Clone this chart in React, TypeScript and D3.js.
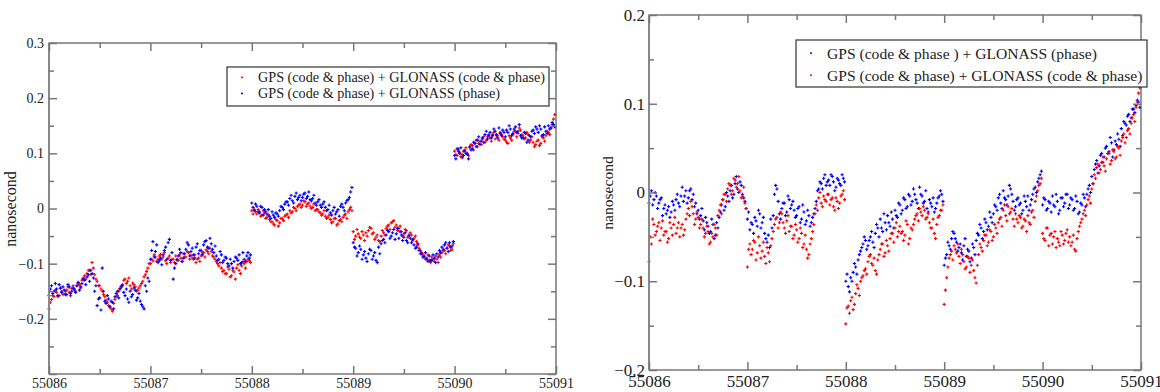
import React from "react";
import * as d3 from "d3";

const width = 1160;
const height = 392;
const startMjd = 55086;
const xTicks = [55086, 55087, 55088, 55089, 55090, 55091];
const xMinor = [55086.5, 55087.5, 55088.5, 55089.5, 55090.5];

// clock offsets in 0.001 ns, one row per day (MJD 55086..55090), samples evenly spread over the day
// "A" sets are the epochs on the grid, "B" sets the epochs half a step later
const leftRedA = [
  [-182, -165, -160, -152, -158, -150, -155, -148, -152, -145, -148, -140, -138, -130, -122, -118, -112, -98, -120, -132, -140, -150, -160, -170, -178, -186, -165, -158, -145, -138, -128, -132, -140, -135, -142, -148, -140, -132, -120, -108],
  [-100, -95, -88, -92, -83, -88, -95, -90, -98, -92, -86, -94, -90, -82, -88, -80, -85, -92, -98, -90, -86, -80, -75, -82, -78, -88, -96, -104, -108, -112, -118, -110, -122, -115, -108, -112, -104, -100, -96, -94],
  [-4, -2, -10, -6, -12, -8, -16, -20, -24, -30, -22, -26, -18, -14, -10, -4, -6, 0, 4, 8, 6, 12, 8, 4, 2, -4, -2, -8, -10, -14, -16, -20, -24, -18, -28, -20, -16, -10, -6, 2],
  [-42, -50, -46, -54, -48, -44, -40, -36, -44, -52, -58, -50, -44, -36, -30, -26, -22, -30, -36, -42, -46, -40, -50, -48, -54, -60, -72, -80, -86, -90, -94, -88, -96, -92, -84, -80, -76, -72, -68, -74],
  [104, 96, 102, 98, 106, 100, 110, 114, 118, 112, 122, 126, 120, 130, 128, 134, 126, 132, 138, 130, 124, 118, 128, 134, 140, 136, 142, 132, 128, 134, 124, 120, 116, 124, 118, 128, 132, 138, 146, 162],
];
const leftRedB = [
  [-170, -158, -148, -160, -145, -156, -150, -142, -158, -140, -150, -136, -144, -126, -128, -112, -120, -108, -128, -140, -146, -156, -166, -176, -182, -172, -160, -150, -140, -130, -136, -126, -146, -138, -150, -144, -136, -124, -114, -100],
  [-92, -84, -96, -86, -92, -80, -100, -86, -92, -98, -94, -84, -96, -88, -78, -92, -90, -84, -92, -96, -80, -88, -78, -72, -86, -92, -100, -98, -114, -118, -106, -124, -112, -128, -102, -118, -96, -108, -92, -98],
  [-10, -6, -2, -14, -4, -18, -12, -24, -28, -20, -32, -18, -22, -12, -16, -8, 2, -4, 6, 2, 14, 4, 10, 0, 8, -2, -6, -12, -4, -18, -12, -26, -18, -30, -22, -24, -12, -18, -2, -4],
  [-56, -38, -52, -42, -58, -50, -34, -46, -56, -48, -60, -40, -48, -32, -38, -24, -34, -40, -32, -50, -38, -52, -44, -58, -50, -66, -76, -84, -92, -84, -98, -92, -86, -98, -88, -76, -82, -66, -76, -64],
  [98, 108, 94, 104, 110, 96, 116, 106, 124, 118, 116, 130, 124, 134, 122, 138, 132, 124, 134, 126, 120, 132, 124, 140, 130, 146, 134, 126, 138, 120, 130, 112, 122, 114, 130, 122, 140, 134, 152, 170],
];
const leftBlueA = [
  [-158, -140, -150, -146, -138, -152, -148, -156, -142, -150, -146, -140, -148, -136, -130, -124, -132, -118, -150, -176, -162, -108, -168, -158, -178, -170, -160, -150, -146, -140, -158, -164, -150, -156, -148, -162, -168, -178, -140, -126],
  [-92, -60, -78, -98, -90, -84, -70, -62, -94, -128, -100, -86, -80, -90, -74, -66, -78, -84, -70, -82, -76, -66, -58, -72, -64, -80, -86, -92, -84, -94, -90, -104, -100, -96, -90, -84, -98, -92, -86, -90],
  [10, -4, 4, -8, 2, -2, -10, -14, -6, -16, -10, -4, 2, 8, 12, 18, 14, 22, 16, 24, 20, 28, 22, 16, 18, 10, 12, 6, 8, 2, -2, -8, -4, -10, -2, 4, 2, 10, 16, 30],
  [-62, -72, -80, -74, -84, -90, -82, -76, -86, -94, -70, -64, -56, -48, -42, -50, -38, -46, -54, -48, -52, -58, -48, -62, -66, -70, -76, -82, -88, -92, -86, -94, -90, -82, -76, -70, -66, -72, -62, -68],
  [96, 108, 100, 92, 104, 98, 112, 108, 118, 124, 116, 128, 134, 126, 138, 132, 140, 128, 136, 142, 130, 138, 144, 136, 148, 140, 132, 128, 136, 124, 130, 142, 148, 138, 144, 134, 140, 150, 146, 152],
];
const leftBlueB = [
  [-146, -154, -136, -158, -144, -142, -156, -138, -154, -144, -152, -134, -142, -128, -138, -120, -112, -126, -140, -164, -184, -150, -172, -164, -168, -182, -154, -162, -142, -152, -146, -170, -160, -144, -166, -154, -174, -182, -150, -132],
  [-76, -88, -66, -94, -102, -76, -92, -56, -80, -108, -92, -74, -96, -82, -62, -86, -72, -90, -64, -76, -84, -60, -70, -54, -74, -68, -94, -78, -98, -88, -100, -92, -108, -88, -94, -100, -80, -96, -80, -84],
  [2, 8, -6, 4, -12, -6, -2, -18, -12, -8, -14, 4, -2, 12, 6, 24, 10, 28, 20, 14, 26, 18, 30, 14, 24, 6, 16, 2, 12, -4, 6, -12, 2, -6, -14, 8, -4, 14, 20, 38],
  [-70, -86, -68, -92, -78, -96, -74, -92, -80, -98, -82, -58, -62, -40, -54, -44, -56, -36, -42, -58, -44, -62, -54, -56, -72, -64, -82, -88, -80, -96, -94, -84, -98, -88, -80, -74, -62, -78, -70, -60],
  [90, 104, 110, 96, 100, 90, 106, 120, 112, 130, 122, 120, 140, 132, 128, 144, 134, 146, 132, 138, 142, 150, 132, 144, 138, 152, 128, 138, 120, 132, 140, 136, 144, 150, 132, 148, 136, 144, 156, 148],
];
const rightBlueA = [
  [-12, 2, -8, -4, -12, -6, -18, -24, -16, -22, -14, -8, -12, -4, -10, 2, -6, 4, -2, -12, -20, -26, -32, -28, -38, -44, -36, -48, -40, -22, -8, -16, -4, 2, -6, 10, 4, 12, -2, -10],
  [-30, -42, -36, -28, -38, -24, -34, -46, -56, -62, -40, -2, 4, -24, -18, -12, -22, -8, -14, -20, -26, -16, -30, -22, -32, -26, -34, -24, -10, 4, 10, 16, 8, 14, 20, 12, 6, 14, 8, 16],
  [-100, -106, -96, -90, -84, -76, -66, -58, -54, -60, -50, -56, -46, -40, -30, -44, -34, -26, -38, -30, -20, -28, -14, -20, -8, -16, -4, -10, -2, -12, 6, -4, -10, -18, -8, -16, -22, -12, -4, -2],
  [-82, -70, -60, -52, -46, -56, -62, -68, -60, -72, -66, -74, -62, -54, -48, -40, -44, -34, -38, -28, -24, -16, -6, -12, 2, -8, -4, 4, -10, -16, -6, -12, -20, -10, -4, -14, -2, 6, 12, 20],
  [-14, -8, -18, -12, -4, -16, -10, -20, -6, -12, -2, -14, -8, -18, -10, -22, -14, -6, -2, 8, 18, 26, 36, 30, 44, 40, 52, 46, 56, 48, 54, 60, 72, 80, 76, 88, 84, 94, 98, 102],
];
const rightBlueB = [
  [-4, -14, 0, -18, -8, -26, -14, -20, -28, -10, -20, -2, -16, 6, -4, -12, 2, -8, -16, -24, -30, -18, -42, -34, -46, -30, -52, -34, -28, -14, -20, 0, -10, 8, -2, 18, 0, 8, -6, -18],
  [-22, -34, -46, -32, -20, -40, -28, -52, -48, -30, -26, 8, -10, -30, -12, -26, -4, -18, -10, -28, -18, -34, -14, -36, -20, -38, -28, -18, 2, 12, 4, 20, 12, 8, 18, 2, 16, 10, 20, 12],
  [-92, -112, -100, -80, -92, -70, -62, -50, -64, -54, -44, -62, -36, -50, -40, -24, -42, -34, -22, -40, -26, -12, -24, -6, -18, -2, -14, 4, -8, -18, -2, -12, 2, -22, -12, -6, -18, -6, 2, -10],
  [-74, -56, -64, -44, -52, -66, -58, -76, -52, -64, -78, -58, -70, -46, -36, -52, -30, -42, -22, -34, -14, -20, -2, -18, -6, -14, 8, -2, -20, -8, -14, -24, -4, -16, -20, -8, 4, 0, 16, 24],
  [-6, -20, -10, -22, -14, -2, -24, -6, -16, -2, -18, -6, -20, -4, -24, -12, -2, -16, 4, 0, 10, 32, 22, 42, 34, 50, 44, 62, 40, 58, 66, 52, 64, 78, 86, 80, 94, 90, 104, 96],
];
const rightRedA = [
  [-78, -58, -36, -44, -34, -40, -48, -44, -52, -40, -36, -46, -34, -40, -48, -30, -18, -10, -24, -30, -28, -36, -40, -46, -44, -56, -50, -40, -26, -14, -8, -2, 4, 8, 2, 14, 10, 2, -4, -12],
  [-84, -58, -64, -56, -68, -60, -66, -72, -62, -78, -52, -36, -28, -34, -24, -40, -32, -44, -38, -48, -42, -52, -46, -58, -64, -70, -52, -36, -14, -6, -12, -4, -10, -2, -8, -16, -6, -18, -4, 2],
  [-148, -128, -122, -132, -114, -108, -100, -94, -86, -78, -70, -82, -88, -76, -64, -58, -68, -60, -52, -46, -40, -50, -38, -44, -48, -36, -52, -42, -30, -24, -18, -26, -20, -28, -34, -40, -46, -36, -26, -20],
  [-126, -96, -74, -66, -60, -68, -72, -64, -78, -84, -74, -82, -88, -102, -70, -62, -54, -48, -56, -44, -50, -40, -34, -28, -20, -26, -16, -22, -30, -24, -34, -28, -38, -32, -26, -36, -20, -10, 2, 10],
  [-46, -54, -40, -48, -58, -44, -52, -60, -48, -54, -42, -50, -56, -64, -52, -38, -30, -20, -14, -4, 4, 20, 28, 22, 34, 30, 38, 44, 36, 46, 40, 50, 58, 66, 62, 72, 78, 88, 96, 112],
];
const rightRedB = [
  [-50, -30, -48, -38, -54, -32, -44, -56, -34, -48, -28, -40, -50, -36, -42, -24, -26, -16, -36, -22, -40, -30, -50, -38, -58, -46, -36, -48, -20, -24, -2, -10, 10, -2, 16, 6, 18, -6, 6, -18],
  [-64, -70, -54, -76, -50, -74, -56, -80, -68, -60, -44, -30, -40, -22, -34, -46, -26, -38, -52, -36, -56, -40, -62, -48, -74, -58, -44, -24, -20, 0, -16, -8, -2, -14, -6, -20, -10, -12, -2, -8],
  [-130, -136, -118, -126, -104, -116, -96, -88, -92, -72, -80, -74, -92, -70, -58, -72, -54, -66, -46, -56, -34, -44, -46, -54, -32, -58, -40, -36, -26, -32, -22, -16, -30, -24, -40, -30, -52, -28, -20, -14],
  [-110, -84, -70, -76, -64, -58, -80, -70, -86, -72, -90, -76, -96, -82, -58, -66, -48, -60, -42, -54, -36, -46, -30, -38, -14, -32, -24, -18, -38, -30, -26, -40, -30, -44, -34, -22, -28, -4, 8, 16],
  [-52, -40, -60, -46, -50, -62, -56, -44, -58, -46, -56, -60, -48, -66, -44, -34, -24, -26, -8, -12, 10, 16, 32, 26, 40, 24, 44, 32, 48, 38, 52, 42, 62, 56, 70, 66, 84, 80, 102, 118],
];

const leftYTicks = [-0.3, -0.2, -0.1, 0, 0.1, 0.2, 0.3];
const leftYMinor = [-0.25, -0.15, -0.05, 0.05, 0.15, 0.25];
const rightYTicks = [-0.2, -0.1, 0, 0.1, 0.2];
const rightYMinor = [-0.15, -0.05, 0.05, 0.15];

const leftLegend = ["GPS (code & phase) + GLONASS (code & phase)", "GPS (code & phase) + GLONASS (phase)"];
const rightLegend = ["GPS (code & phase ) + GLONASS (phase)", "GPS (code & phase) + GLONASS (code & phase)"];

const RED = "#ff0000";
const BLUE = "#0000ff";
const font = "'Liberation Serif', 'DejaVu Serif', serif";

// turn per-day rows into (mjd, ns) points; shift = 0 for A epochs, 0.5 for B epochs
const toPoints = (days: number[][], shift: number) =>
  days.flatMap((row, d) => row.map((v, j) => ({ t: startMjd + d + (j + shift) / row.length, v: v / 1000 })));

const plus = (s: number) => `M${-s},0H${s}M0,${-s}V${s}`;

type PanelProps = {
  box: { left: number; right: number; top: number; bottom: number };
  yDomain: [number, number];
  yTicks: number[];
  yMinor: number[];
  hideLabel: number[];
  series: { a: number[][]; b: number[][]; color: string }[];
  legend: { x: number; y: number; w: number; h: number; items: string[]; fs: number; row: number; off: number; pad: number };
  tickFs: number;
  xPad: number;
  yPad: number;
  labelX: number;
  labelY: number;
  labelFs: number;
};

function Panel(p: PanelProps) {
  const axesRef = React.useRef<SVGGElement>(null);
  const x = d3.scaleLinear().domain([55086, 55091]).range([p.box.left, p.box.right]);
  const y = d3.scaleLinear().domain(p.yDomain).range([p.box.bottom, p.box.top]);

  React.useEffect(() => {
    const g = d3.select(axesRef.current);
    g.selectAll("*").remove();
    const fmt = (d: any) => (p.hideLabel.includes(d) ? "" : d === 0 ? "0" : d3.format(".1f")(d));

    g.append("g").attr("transform", `translate(0,${p.box.bottom})`)
      .call(d3.axisBottom(x).tickValues(xTicks).tickSize(-8).tickPadding(p.xPad).tickFormat(d3.format("d")));
    g.append("g").attr("transform", `translate(0,${p.box.bottom})`)
      .call(d3.axisBottom(x).tickValues(xMinor).tickSize(-5).tickFormat(() => ""));
    g.append("g").attr("transform", `translate(0,${p.box.top})`)
      .call(d3.axisTop(x).tickValues(xTicks).tickSize(-8).tickFormat(() => ""));
    g.append("g").attr("transform", `translate(0,${p.box.top})`)
      .call(d3.axisTop(x).tickValues(xMinor).tickSize(-5).tickFormat(() => ""));
    g.append("g").attr("transform", `translate(${p.box.left},0)`)
      .call(d3.axisLeft(y).tickValues(p.yTicks).tickSize(-8).tickPadding(p.yPad).tickFormat(fmt));
    g.append("g").attr("transform", `translate(${p.box.left},0)`)
      .call(d3.axisLeft(y).tickValues(p.yMinor).tickSize(-5).tickFormat(() => ""));
    g.append("g").attr("transform", `translate(${p.box.right},0)`)
      .call(d3.axisRight(y).tickValues(p.yTicks).tickSize(-8).tickFormat(() => ""));
    g.append("g").attr("transform", `translate(${p.box.right},0)`)
      .call(d3.axisRight(y).tickValues(p.yMinor).tickSize(-5).tickFormat(() => ""));

    g.selectAll(".domain").remove();
    g.selectAll(".tick line").attr("stroke", "#777").attr("stroke-width", 1.5);
    g.selectAll(".tick text").attr("fill", "#222").attr("font-family", font).attr("font-size", p.tickFs);
  }, []);

  const lg = p.legend;
  return (
    <g>
      {p.series.map((s, si) => (
        <g key={si} stroke={s.color} strokeWidth={1.1}>
          {toPoints(s.a, 0).concat(toPoints(s.b, 0.5)).map((d, i) => (
            <path key={i} d={plus(1.6)} transform={`translate(${x(d.t)},${y(d.v)})`} />
          ))}
        </g>
      ))}
      <rect x={p.box.left} y={p.box.top} width={p.box.right - p.box.left} height={p.box.bottom - p.box.top}
        fill="none" stroke="#333" strokeWidth={1} />
      <line x1={p.box.left} x2={p.box.left} y1={p.box.top} y2={p.box.bottom} stroke="#888" strokeWidth={2} />
      <g ref={axesRef} />
      <text transform={`translate(${p.labelX},${p.labelY}) rotate(-90)`} textAnchor="middle"
        fontFamily={font} fontSize={p.labelFs} fill="#222">nanosecond</text>
      <g>
        <rect x={lg.x} y={lg.y} width={lg.w} height={lg.h} fill="white" stroke="#333" strokeWidth={1.2} />
        {lg.items.map((t, i) => (
          <g key={i}>
            <path d={plus(1)} stroke={p.series[i].color} strokeWidth={1}
              transform={`translate(${lg.x + lg.pad - 16},${lg.y + lg.row * (i + lg.off)})`} />
            <text x={lg.x + lg.pad} y={lg.y + lg.row * (i + lg.off)} dy="0.35em" fontFamily={font}
              fontSize={lg.fs} fill="#222">{t}</text>
          </g>
        ))}
      </g>
    </g>
  );
}

export default function App() {
  return (
    <div style={{ position: "absolute", left: 0, top: 0 }}>
      <svg width={width} height={height} style={{ display: "block", background: "white" }}>
        <Panel
          box={{ left: 49, right: 556, top: 43, bottom: 374 }}
          yDomain={[-0.3, 0.3]}
          yTicks={leftYTicks}
          yMinor={leftYMinor}
          hideLabel={[-0.3]}
          series={[{ a: leftRedA, b: leftRedB, color: RED }, { a: leftBlueA, b: leftBlueB, color: BLUE }]}
          legend={{ x: 227, y: 67, w: 322, h: 39, items: leftLegend, fs: 14.2, row: 16, off: 0.65, pad: 31 }}
          tickFs={14}
          xPad={4}
          yPad={5}
          labelX={16}
          labelY={209}
          labelFs={16}
        />
        <Panel
          box={{ left: 649, right: 1141, top: 15, bottom: 370 }}
          yDomain={[-0.2, 0.2]}
          yTicks={rightYTicks}
          yMinor={rightYMinor}
          hideLabel={[]}
          series={[{ a: rightBlueA, b: rightBlueB, color: BLUE }, { a: rightRedA, b: rightRedB, color: RED }]}
          legend={{ x: 796, y: 40, w: 351, h: 47, items: rightLegend, fs: 15.6, row: 22, off: 0.6, pad: 31 }}
          tickFs={17}
          xPad={5}
          yPad={4}
          labelX={613}
          labelY={193}
          labelFs={15.6}
        />
      </svg>
    </div>
  );
}
